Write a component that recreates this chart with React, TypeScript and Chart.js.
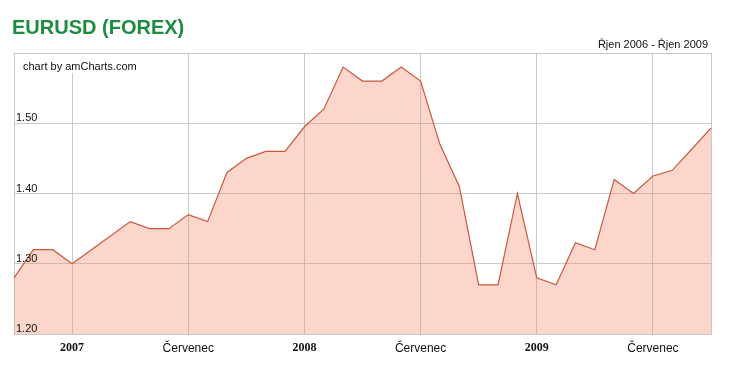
import React, { useEffect, useRef } from "react";
import { Chart, registerables } from "chart.js";

Chart.register(...registerables);

const months = [
  "2006-10", "2006-11", "2006-12",
  "2007-01", "2007-02", "2007-03", "2007-04", "2007-05", "2007-06",
  "2007-07", "2007-08", "2007-09", "2007-10", "2007-11", "2007-12",
  "2008-01", "2008-02", "2008-03", "2008-04", "2008-05", "2008-06",
  "2008-07", "2008-08", "2008-09", "2008-10", "2008-11", "2008-12",
  "2009-01", "2009-02", "2009-03", "2009-04", "2009-05", "2009-06",
  "2009-07", "2009-08", "2009-09", "2009-10",
];

const eurusd = [
  1.28, 1.32, 1.32,
  1.30, 1.32, 1.34, 1.36, 1.35, 1.35,
  1.37, 1.36, 1.43, 1.45, 1.46, 1.46,
  1.495, 1.52, 1.58, 1.56, 1.56, 1.58,
  1.56, 1.47, 1.41, 1.27, 1.27, 1.40,
  1.28, 1.27, 1.33, 1.32, 1.42, 1.40,
  1.425, 1.433, 1.463, 1.493,
];

const yTickLabels = ["1.20", "1.30", "1.40", "1.50"];

const titleText = "EURUSD (FOREX)";
const rangeText = "Řjen 2006 - Řjen 2009";
const creditText = "chart by amCharts.com";
const julyLabel = "Červenec";

function xLabel(i: number): string {
  const [y, m] = months[i].split("-");
  if (m === "01") return y;
  if (m === "07") return julyLabel;
  return "";
}

const GRID = "#c9c9c9";

const decorPlugin = {
  id: "decor",
  beforeDatasetsDraw(chart: any) {
    const { ctx, chartArea } = chart;
    ctx.save();
    // white box behind credit text
    ctx.fillStyle = "#ffffff";
    ctx.fillRect(chartArea.left + 1, chartArea.top + 1, 135, 19);
    ctx.restore();
  },
  afterDraw(chart: any) {
    const { ctx, chartArea, scales } = chart;
    ctx.save();
    // title
    ctx.fillStyle = "#1c8c3e";
    ctx.font = "bold 20px Arial, 'Liberation Sans', sans-serif";
    ctx.textBaseline = "alphabetic";
    ctx.textAlign = "left";
    ctx.fillText(titleText, 12, 34);
    // range text
    ctx.fillStyle = "#111";
    ctx.font = "11px Arial, 'Liberation Sans', sans-serif";
    ctx.textAlign = "right";
    ctx.fillText(rangeText, 708, 48);
    // credit
    ctx.textAlign = "left";
    ctx.fillText(creditText, chartArea.left + 9, chartArea.top + 17);
    // y labels inside plot, sitting above grid lines
    const y = scales.y;
    yTickLabels.forEach((t) => {
      const py = y.getPixelForValue(parseFloat(t));
      ctx.fillText(t, chartArea.left + 2, py - 2);
    });
    ctx.restore();
  },
};

export default function App() {
  const ref = useRef<HTMLCanvasElement>(null);
  useEffect(() => {
    document.body.style.margin = "0";
    const chart = new Chart(ref.current!, {
      type: "line",
      data: {
        labels: months,
        datasets: [
          {
            data: eurusd,
            borderColor: "#c9583d",
            borderWidth: 1.2,
            backgroundColor: "rgba(248,140,110,0.36)",
            fill: "origin",
            pointRadius: 0,
            tension: 0,
          },
        ],
      },
      options: {
        animation: false,
        responsive: false,
        maintainAspectRatio: false,
        layout: { padding: { left: 14, right: 23, top: 53, bottom: 0 } },
        plugins: { legend: { display: false }, tooltip: { enabled: false } },
        scales: {
          x: {
            type: "category",
            offset: false,
            afterFit: (s: any) => {
              s.height = 35;
            },
            grid: {
              drawTicks: false,
              color: (c: any) =>
                c.index % 6 === 3 || c.index === months.length - 1 ? GRID : "rgba(0,0,0,0)",
              lineWidth: 1,
            },
            border: { color: GRID },
            ticks: {
              autoSkip: false,
              maxRotation: 0,
              padding: 7,
              color: "#111",
              callback: (_v: any, i: number) => xLabel(i),
              font: (c: any) => {
                const lbl = c.index !== undefined ? xLabel(c.index) : "";
                return /^\d{4}$/.test(lbl)
                  ? { family: "'Liberation Serif', 'Times New Roman', serif", size: 12, weight: "bold" }
                  : { family: "Arial, 'Liberation Sans', sans-serif", size: 12, weight: "normal" };
              },
            },
          },
          y: {
            min: 1.2,
            max: 1.6,
            afterFit: (s: any) => {
              s.width = 0;
            },
            grid: { color: GRID, drawTicks: false },
            border: { color: GRID },
            ticks: { display: false, stepSize: 0.1 },
          },
        },
      },
      plugins: [decorPlugin],
    });
    return () => chart.destroy();
  }, []);
  return (
    <div style={{ position: "absolute", left: 0, top: 0, width: 734, height: 369, background: "#fff" }}>
      <canvas ref={ref} width={734} height={369} style={{ display: "block" }} />
    </div>
  );
}
